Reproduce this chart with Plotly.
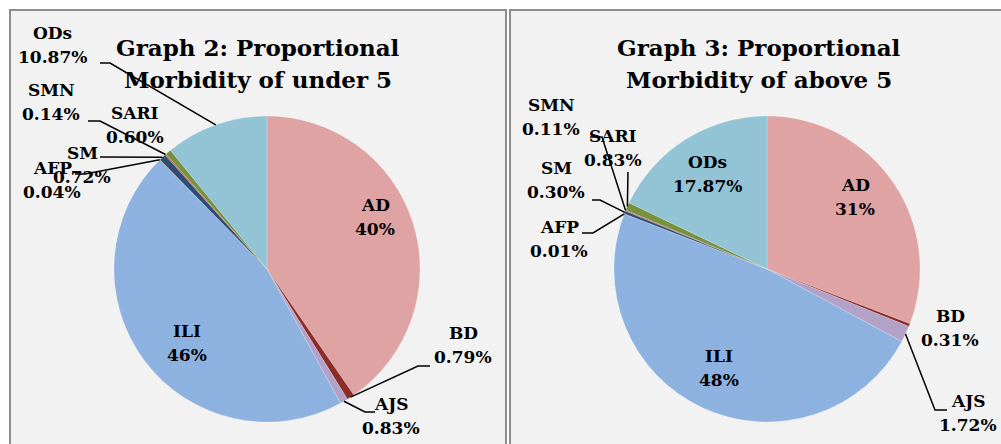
import math
import plotly.graph_objects as go

W, H = 1001, 444

labels = ["AD", "BD", "AJS", "ILI", "AFP", "SM", "SMN", "SARI", "ODs"]
under5_values = [40.4, 0.79, 0.83, 45.6, 0.04, 0.72, 0.14, 0.60, 10.87]
under5_text = ["40%", "0.79%", "0.83%", "46%", "0.04%", "0.72%", "0.14%", "0.60%", "10.87%"]
above5_values = [30.8, 0.31, 1.72, 48.0, 0.01, 0.30, 0.11, 0.83, 17.87]
above5_text = ["31%", "0.31%", "1.72%", "48%", "0.01%", "0.30%", "0.11%", "0.83%", "17.87%"]
colors = ["#DFA3A3", "#8C2B28", "#B2A2C8", "#8EB2E0", "#E0802E",
          "#2C4D75", "#C0504D", "#76923C", "#92C4D6"]

titles = [["Graph 2: Proportional", "Morbidity of under 5"],
          ["Graph 3: Proportional", "Morbidity of above 5"]]

# layout: pie centres / radius in pixels
pies = [
    dict(values=under5_values, text=under5_text, cx=267, cy=269, r=153,
         title_x=258,
         label_pos={"AD": (375, 217), "ILI": (187, 343), "BD": (463, 345),
                    "AJS": (391, 416), "ODs": (52, 45), "SMN": (51, 102),
                    "SARI": (135, 125), "SM": (82, 165), "AFP": (52, 180)},
         leaders={"ODs": [(100, 63), (110, 63)], "SMN": [(88, 121), (100, 121)],
                  "SM": [(100, 157)], "AFP": [(75, 174), (85, 174)],
                  "BD": [(430, 366), (418, 366)], "AJS": [(375, 412), (365, 412)]}),
    dict(values=above5_values, text=above5_text, cx=767, cy=269, r=153,
         title_x=759,
         label_pos={"AD": (855, 197), "ODs": (707, 174), "ILI": (719, 368),
                    "BD": (950, 328), "AJS": (968, 413), "SMN": (551, 117),
                    "SARI": (613, 148), "SM": (556, 180), "AFP": (559, 239)},
         leaders={"SMN": [(590, 137), (602, 137)], "SARI": [(628, 172)],
                  "SM": [(592, 200), (600, 200)], "AFP": [(582, 233), (593, 233)],
                  "AJS": [(947, 410), (935, 410)]}),
]

FONT = "DejaVu Serif"


def px(x, y):
    return x / W, 1 - y / H


def anchor(values, idx, cx, cy, r):
    tot = sum(values)
    cum = sum(values[:idx]) + values[idx] / 2
    th = 2 * math.pi * cum / tot
    return cx + r * math.sin(th), cy - r * math.cos(th)


def text_ann(s, x, y, size):
    ax, ay = px(x, y)
    return dict(text=s, x=ax, y=ay, xref="paper", yref="paper", showarrow=False,
                xanchor="center", yanchor="middle",
                font=dict(family=FONT, size=size, color="#000", weight="bold"))


fig = go.Figure()
shapes = []
annotations = []

# panels
for x0, x1 in [(10, 506), (510, 1010)]:
    shapes.append(dict(type="rect", xref="paper", yref="paper",
                       x0=x0 / W, x1=x1 / W, y0=-0.05, y1=1 - 10 / H,
                       fillcolor="#F2F2F2", line=dict(color="#8C8C8C", width=2),
                       layer="below"))

for k, p in enumerate(pies):
    cx, cy, r = p["cx"], p["cy"], p["r"]
    fig.add_trace(go.Pie(
        labels=labels, values=p["values"], sort=False, direction="clockwise",
        rotation=0, textinfo="none", hoverinfo="label+percent",
        marker=dict(colors=colors, line=dict(color="rgba(255,255,255,0.35)", width=0.5)),
        domain=dict(x=[(cx - r) / W, (cx + r) / W], y=[1 - (cy + r) / H, 1 - (cy - r) / H]),
        showlegend=False))
    annotations.append(text_ann(titles[k][0], p["title_x"], 47, 23))
    annotations.append(text_ann(titles[k][1], p["title_x"], 80, 23))
    for i, lab in enumerate(labels):
        lx, ly = p["label_pos"][lab]
        annotations.append(text_ann(lab, lx, ly - 12, 17))
        annotations.append(text_ann(p["text"][i], lx, ly + 12, 17))
        if lab in p["leaders"]:
            pts = p["leaders"][lab] + [anchor(p["values"], i, cx, cy, r)]
            path = "M " + " L ".join(f"{px(a, b)[0]:.5f},{px(a, b)[1]:.5f}" for a, b in pts)
            shapes.append(dict(type="path", xref="paper", yref="paper", path=path,
                               line=dict(color="#000", width=1.5), layer="above"))

fig.update_layout(width=W, height=H, margin=dict(l=0, r=0, t=0, b=0),
                  paper_bgcolor="white", plot_bgcolor="white",
                  shapes=shapes, annotations=annotations)
fig.write_html("out.html", config={"displayModeBar": False},
               post_script="document.body.style.margin='0';document.body.style.overflow='hidden';")
